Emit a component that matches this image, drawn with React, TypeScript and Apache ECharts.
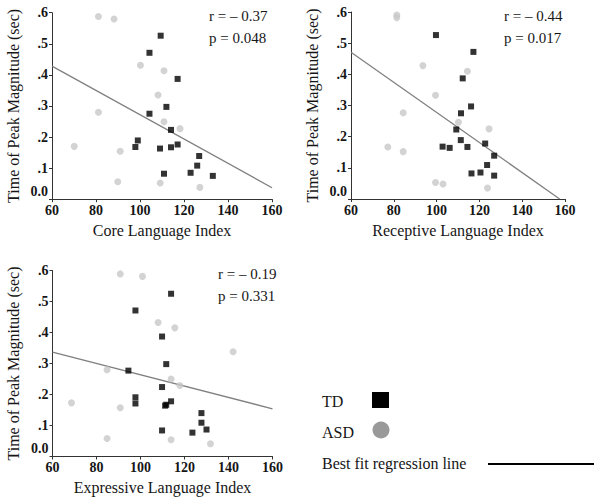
import React, { useEffect, useRef } from "react";
import * as echarts from "echarts";

const xTicks = [60, 80, 100, 120, 140, 160];
const yTickLabels = ["0.0", ".1", ".2", ".3", ".4", ".5", ".6"];

const tdCore = [
  [109.4, 0.526], [104.3, 0.471], [117.1, 0.387], [112.0, 0.297], [104.3, 0.275],
  [114.1, 0.223], [99.0, 0.189], [97.9, 0.168], [109.1, 0.163], [114.1, 0.167],
  [117.1, 0.176], [126.9, 0.139], [126.0, 0.108], [123.0, 0.085], [110.9, 0.082],
  [133.1, 0.075],
];
const asdCore = [
  [81.1, 0.588], [88.2, 0.580], [100.2, 0.431], [110.9, 0.413], [108.2, 0.335],
  [81.1, 0.280], [110.9, 0.249], [118.2, 0.227], [70.1, 0.170], [91.0, 0.154],
  [89.9, 0.056], [109.2, 0.052], [127.2, 0.038],
];
const fitCore = [[60, 0.428], [160, 0.037]];

const tdRec = [
  [99.7, 0.526], [117.2, 0.472], [112.2, 0.387], [116.1, 0.297], [111.4, 0.275],
  [109.2, 0.223], [111.3, 0.189], [102.8, 0.168], [106.1, 0.164], [114.4, 0.167],
  [122.7, 0.178], [126.9, 0.139], [123.6, 0.109], [120.5, 0.085], [116.3, 0.082],
  [126.9, 0.075],
];
const asdRec = [
  [81.4, 0.590], [81.4, 0.582], [93.6, 0.428], [114.4, 0.410], [99.5, 0.333],
  [84.4, 0.277], [110.2, 0.246], [124.5, 0.225], [77.2, 0.167], [84.4, 0.152],
  [99.5, 0.053], [103.0, 0.048], [123.8, 0.035],
];
const fitRec = [[60, 0.471], [157.5, 0]];

const tdExp = [
  [113.9, 0.525], [97.7, 0.471], [109.8, 0.387], [111.7, 0.298], [94.5, 0.277],
  [109.8, 0.224], [97.7, 0.191], [97.7, 0.171], [111.7, 0.167], [111.2, 0.164],
  [113.9, 0.178], [127.7, 0.140], [127.7, 0.109], [130.0, 0.087], [109.8, 0.084],
  [123.6, 0.077],
];
const asdExp = [
  [90.8, 0.589], [100.9, 0.581], [108.0, 0.432], [115.6, 0.415], [142.1, 0.338],
  [84.8, 0.280], [113.9, 0.250], [117.9, 0.229], [68.6, 0.173], [90.8, 0.157],
  [84.8, 0.058], [113.9, 0.054], [131.8, 0.041],
];
const fitExp = [[60, 0.337], [160, 0.154]];

const panelTitles = ["Core Language Index", "Receptive Language Index", "Expressive Language Index"];
const rValues = ["r = \u2013 0.37", "r = \u2013 0.44", "r = \u2013 0.19"];
const pValues = ["p = 0.048", "p = 0.017", "p = 0.331"];
const yName = "Time of Peak Magnitude (sec)";
const legendLabels = ["TD", "ASD", "Best fit regression line"];

const FONT = "'Liberation Serif', 'Times New Roman', serif";
const TXT = "#161616";

export default function App() {
  const ref = useRef<HTMLDivElement>(null);
  useEffect(() => {
    if (!ref.current) return;
    const chart = echarts.init(ref.current, null, { renderer: "svg" });
    const grids = [
      { left: 52, top: 12.7, width: 220, height: 186.5 },
      { left: 351, top: 12, width: 214, height: 187 },
      { left: 52.5, top: 270.5, width: 220, height: 186 },
    ];
    const xAxis = grids.map((_, i) => ({
      type: "value",
      gridIndex: i,
      min: xTicks[0],
      max: xTicks[xTicks.length - 1],
      interval: 20,
      name: panelTitles[i],
      nameLocation: "middle",
      nameGap: 23,
      nameTextStyle: { fontFamily: FONT, fontSize: 16, color: TXT },
      axisLine: { show: true, lineStyle: { color: "#333", width: 1 } },
      axisTick: { show: true, length: 3, lineStyle: { color: "#333" } },
      axisLabel: { fontFamily: FONT, fontSize: 14, fontWeight: "bold", color: TXT, margin: 4 },
      splitLine: { show: false },
    }));
    const yAxis = grids.map((_, i) => ({
      type: "value",
      gridIndex: i,
      min: 0,
      max: 0.6,
      interval: 0.1,
      name: yName,
      nameLocation: "middle",
      nameGap: 31,
      nameTextStyle: { fontFamily: FONT, fontSize: 16, color: TXT },
      axisLine: { show: true, lineStyle: { color: "#333", width: 1 } },
      axisTick: { show: true, length: 3, lineStyle: { color: "#333" } },
      axisLabel: {
        fontFamily: FONT,
        fontSize: 14,
        fontWeight: "bold",
        color: TXT,
        margin: 4,
        formatter: (v: number) => {
          const idx = Math.round(v * 10);
          return idx === 0 ? "{z|" + yTickLabels[0] + "}" : yTickLabels[idx];
        },
        rich: {
          z: { fontFamily: FONT, fontSize: 14, fontWeight: "bold", color: TXT, padding: [0, 0, 16, 0] },
        },
      },
      splitLine: { show: false },
    }));
    const sets = [
      [tdCore, asdCore, fitCore],
      [tdRec, asdRec, fitRec],
      [tdExp, asdExp, fitExp],
    ];
    const series: any[] = [];
    sets.forEach(([td, asd, fit], i) => {
      series.push({
        type: "line",
        xAxisIndex: i,
        yAxisIndex: i,
        data: fit,
        symbol: "none",
        lineStyle: { color: "#808080", width: 1.3 },
        z: 1,
      });
      series.push({
        type: "scatter",
        xAxisIndex: i,
        yAxisIndex: i,
        data: asd,
        symbol: "circle",
        symbolSize: 7,
        itemStyle: { color: "#c8c8c8" },
        z: 2,
      });
      series.push({
        type: "scatter",
        xAxisIndex: i,
        yAxisIndex: i,
        data: td,
        symbol: "rect",
        symbolSize: 6,
        itemStyle: { color: "#000" },
        z: 3,
      });
    });
    const annPos = [
      [209, 8],
      [504, 8],
      [218, 266],
    ];
    const graphic: any[] = [];
    annPos.forEach(([x, y], i) => {
      graphic.push({ type: "text", x, y, style: { text: rValues[i], font: `15px ${FONT}`, fill: TXT } });
      graphic.push({ type: "text", x, y: y + 22, style: { text: pValues[i], font: `15px ${FONT}`, fill: TXT } });
    });
    graphic.push({ type: "text", x: 322, y: 393, style: { text: legendLabels[0], font: `16px ${FONT}`, fill: TXT } });
    graphic.push({ type: "rect", shape: { x: 372, y: 392, width: 17, height: 16 }, style: { fill: "#000" } });
    graphic.push({ type: "text", x: 322, y: 424, style: { text: legendLabels[1], font: `16px ${FONT}`, fill: TXT } });
    graphic.push({ type: "circle", shape: { cx: 381, cy: 430, r: 8.5 }, style: { fill: "#999" } });
    graphic.push({ type: "text", x: 322, y: 455, style: { text: legendLabels[2], font: `16px ${FONT}`, fill: TXT } });
    graphic.push({ type: "line", shape: { x1: 488, y1: 464, x2: 594, y2: 464 }, style: { stroke: "#000", lineWidth: 2 } });

    chart.setOption({
      animation: false,
      backgroundColor: "#fff",
      textStyle: { fontFamily: FONT },
      grid: grids,
      xAxis,
      yAxis,
      series,
      graphic,
    });
    return () => chart.dispose();
  }, []);
  return (
    <div
      ref={ref}
      style={{ position: "fixed", left: 0, top: 0, width: 601, height: 500, background: "#fff" }}
    />
  );
}
